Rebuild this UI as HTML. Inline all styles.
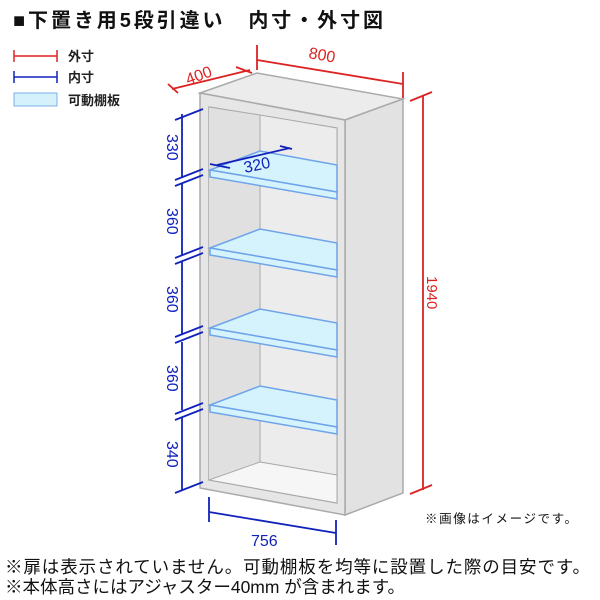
<!DOCTYPE html>
<html><head><meta charset="utf-8"><style>
body{margin:0;background:#fff;width:600px;height:600px;overflow:hidden}
svg{display:block}
text{font-family:"Liberation Sans","Noto Sans CJK JP",sans-serif}
</style></head><body>
<svg width="600" height="600" viewBox="0 0 600 600" xmlns="http://www.w3.org/2000/svg">
<text x="13" y="27" font-size="20" font-weight="bold" fill="#111" textLength="370">■下置き用5段引違い　内寸・外寸図</text>
<!-- legend -->
<g stroke="#d22" stroke-width="1.5"><line x1="14" y1="56" x2="57" y2="56"/><line x1="14" y1="50" x2="14" y2="62"/><line x1="57" y1="50" x2="57" y2="62"/></g>
<g stroke="#12b" stroke-width="1.5"><line x1="14" y1="77" x2="57" y2="77"/><line x1="14" y1="71" x2="14" y2="83"/><line x1="57" y1="71" x2="57" y2="83"/></g>
<rect x="14" y="93" width="43" height="13" fill="#d4f1fc" stroke="#7ab0e8"/>
<text x="68" y="61" font-size="13" font-weight="bold" fill="#222">外寸</text>
<text x="68" y="82" font-size="13" font-weight="bold" fill="#222">内寸</text>
<text x="68" y="105" font-size="13" font-weight="bold" fill="#222">可動棚板</text>
<!-- cabinet -->
<polygon points="200,93 257,73 403,99 345,120" fill="#ececec" stroke="#aaa" stroke-width="1.5"/>
<polygon points="345,120 403,99 403,493 345,515" fill="#e2e2e2" stroke="#aaa" stroke-width="1.5"/>
<polygon points="200,93 345,120 345,515 200,488" fill="#e6e6e6" stroke="#aaa" stroke-width="1.5"/>
<polygon points="209,107 337,128 337,503 209,480" fill="#ddd" stroke="#999" stroke-width="1.2"/>
<polygon points="209,107 260,115 260,462 209,480" fill="#e0e0e0"/>
<polygon points="260,115 337,128 337,475 260,462" fill="#ececec" stroke="#aaa"/>
<polygon points="209,480 260,462 337,475 337,503" fill="#f6f6f6" stroke="#aaa"/>
<line x1="209" y1="107" x2="260" y2="115" stroke="#aaa"/>
<!-- shelves -->
<g fill="#d4f3fc" stroke="#6fa3ea" stroke-width="1.5">
<polygon points="210,170 260,151 337,165 337,192 210,170"/><polygon points="210,170 337,192 337,199 210,177"/>
<polygon points="210,248 260,229 337,243 337,270"/><polygon points="210,248 337,270 337,277 210,255"/>
<polygon points="210,328 260,309 337,323 337,350"/><polygon points="210,328 337,350 337,357 210,335"/>
<polygon points="210,405 260,386 337,400 337,427"/><polygon points="210,405 337,427 337,434 210,412"/>
</g>
<!-- red dims -->
<g stroke="#d22" stroke-width="1.8" fill="none">
<line x1="257" y1="60" x2="403" y2="84"/><line x1="257" y1="45" x2="257" y2="70"/><line x1="403" y1="72" x2="403" y2="98"/>
<line x1="172" y1="89" x2="250" y2="70"/><line x1="168" y1="84" x2="178" y2="93"/><line x1="236" y1="67" x2="252" y2="73"/>
<line x1="423" y1="96" x2="423" y2="490"/><line x1="410" y1="101" x2="432" y2="92"/><line x1="410" y1="494" x2="432" y2="485"/>
</g>
<text x="0" y="0" font-size="16" fill="#d22" transform="translate(308,58) rotate(10)">800</text>
<text x="0" y="0" font-size="16" fill="#d22" transform="translate(188,85) rotate(-20)">400</text>
<text x="0" y="0" font-size="15" fill="#d22" transform="translate(427,276) rotate(90)">1940</text>
<!-- blue dims -->
<g stroke="#12b" stroke-width="1.8" fill="none">
<line x1="182" y1="114" x2="182" y2="177"/>
<line x1="182" y1="184" x2="182" y2="255"/>
<line x1="182" y1="262" x2="182" y2="335"/>
<line x1="182" y1="342" x2="182" y2="410"/>
<line x1="182" y1="418" x2="182" y2="490"/>
<line x1="175" y1="120" x2="203" y2="109"/>
<line x1="175" y1="180" x2="203" y2="169"/><line x1="175" y1="186" x2="203" y2="175"/>
<line x1="175" y1="258" x2="203" y2="247"/><line x1="175" y1="264" x2="203" y2="253"/>
<line x1="175" y1="337" x2="203" y2="326"/><line x1="175" y1="343" x2="203" y2="332"/>
<line x1="175" y1="414" x2="203" y2="403"/><line x1="175" y1="420" x2="203" y2="409"/>
<line x1="175" y1="493" x2="203" y2="482"/>
<line x1="209" y1="512" x2="336" y2="533"/><line x1="209" y1="497" x2="209" y2="522"/><line x1="336" y1="520" x2="336" y2="545"/>
<line x1="217" y1="165" x2="290" y2="148"/><line x1="230" y1="168" x2="210" y2="164"/><line x1="280" y1="146" x2="292" y2="149"/>
</g>
<text x="0" y="0" font-size="16" fill="#12b" transform="translate(167,134) rotate(90)">330</text>
<text x="0" y="0" font-size="16" fill="#12b" transform="translate(167,208) rotate(90)">360</text>
<text x="0" y="0" font-size="16" fill="#12b" transform="translate(167,286) rotate(90)">360</text>
<text x="0" y="0" font-size="16" fill="#12b" transform="translate(167,365) rotate(90)">360</text>
<text x="0" y="0" font-size="16" fill="#12b" transform="translate(167,441) rotate(90)">340</text>
<text x="0" y="0" font-size="16" fill="#12b" transform="translate(245,173) rotate(-12)">320</text>
<text x="251" y="546" font-size="16" fill="#12b">756</text>
<text x="425" y="523" font-size="12.5" fill="#111" textLength="152">※画像はイメージです。</text>
<text x="5" y="573" font-size="17.5" fill="#111" textLength="585">※扉は表示されていません。可動棚板を均等に設置した際の目安です。</text>
<text x="5" y="593" font-size="17.5" fill="#111" textLength="400">※本体高さにはアジャスター40mm が含まれます。</text>
</svg>
</body></html>
